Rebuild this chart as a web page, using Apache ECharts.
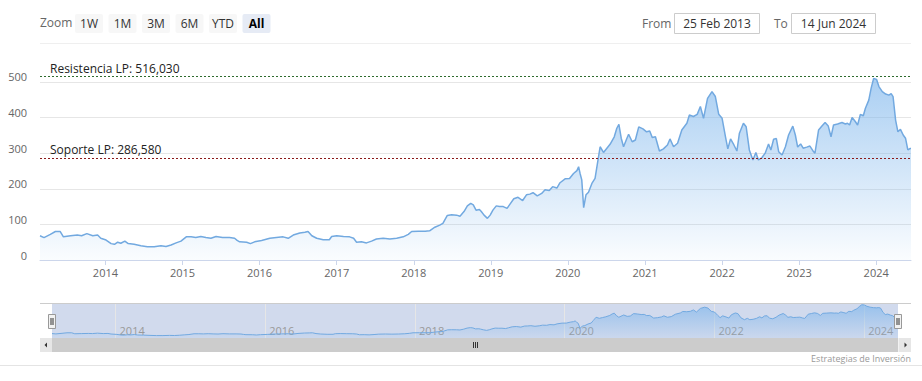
<!DOCTYPE html>
<html><head><meta charset="utf-8">
<script src="https://cdn.jsdelivr.net/npm/echarts@6/dist/echarts.min.js"></script>
<style>html,body{margin:0;padding:0;background:#fff;}#c{width:922px;height:381px;}</style>
</head><body><div id="c"></div>
<script>
const dates = ['2013-02-25','2013-03-16','2013-04-15','2013-05-09','2013-06-01','2013-06-16','2013-07-20','2013-08-21','2013-09-10','2013-10-05','2013-11-02','2013-11-25','2013-12-10',
'2014-01-04','2014-01-28','2014-02-13','2014-02-28','2014-03-15','2014-04-03','2014-04-19','2014-05-17','2014-06-18','2014-07-19','2014-08-20','2014-09-21','2014-10-15','2014-11-08','2014-12-02','2014-12-25',
'2015-01-19','2015-02-11','2015-03-05','2015-03-29','2015-04-22','2015-05-16','2015-06-09','2015-07-10','2015-08-12','2015-09-05','2015-09-17','2015-09-29','2015-11-01','2015-11-19','2015-12-09',
'2016-01-11','2016-02-19','2016-03-21','2016-04-22','2016-05-16','2016-06-09','2016-07-10','2016-08-03','2016-08-18','2016-09-05','2016-09-28','2016-10-29','2016-11-27','2016-12-08',
'2017-01-01','2017-02-02','2017-03-03','2017-03-22','2017-04-05','2017-04-28','2017-05-22','2017-06-15','2017-07-08','2017-08-09','2017-09-10','2017-10-12','2017-11-12','2017-12-06','2017-12-22',
'2018-01-23','2018-02-24','2018-03-17','2018-04-11','2018-05-04','2018-05-19','2018-06-09','2018-06-29','2018-07-23','2018-08-08','2018-08-27','2018-09-12','2018-09-28','2018-10-10','2018-10-23','2018-11-08','2018-11-17','2018-11-30','2018-12-16','2018-12-29',
'2019-01-11','2019-01-27','2019-02-11','2019-03-01','2019-03-19','2019-04-02','2019-04-20','2019-05-10','2019-06-01','2019-06-19','2019-07-05','2019-07-20','2019-08-09','2019-08-30','2019-09-15','2019-10-05','2019-10-21','2019-11-10','2019-11-25','2019-12-19',
'2020-01-09','2020-01-28','2020-02-13','2020-02-21','2020-02-28','2020-03-07','2020-03-16','2020-03-27','2020-04-08','2020-04-24','2020-05-09','2020-05-20','2020-06-02','2020-06-18','2020-07-04','2020-07-19','2020-08-08','2020-08-20','2020-08-30','2020-09-10','2020-09-21','2020-10-07','2020-10-15','2020-11-01','2020-11-16','2020-12-02','2020-12-22',
'2021-01-08','2021-01-23','2021-02-04','2021-02-19','2021-03-10','2021-03-29','2021-04-17','2021-04-29','2021-05-16','2021-06-04','2021-06-24','2021-07-18','2021-07-30','2021-08-18','2021-09-05','2021-09-20','2021-10-05','2021-10-24','2021-11-14','2021-11-30','2021-12-16',
'2022-01-01','2022-01-17','2022-01-28','2022-02-10','2022-02-26','2022-03-12','2022-03-24','2022-04-12','2022-04-25','2022-05-10','2022-05-27','2022-06-10','2022-06-22','2022-07-08','2022-07-24','2022-08-09','2022-08-20','2022-09-02','2022-09-15','2022-09-26','2022-10-12','2022-10-28','2022-11-12','2022-12-02','2022-12-14','2022-12-25',
'2023-01-08','2023-01-20','2023-02-06','2023-02-21','2023-03-07','2023-03-17','2023-04-03','2023-04-19','2023-05-04','2023-05-19','2023-06-01','2023-06-13','2023-07-02','2023-07-23','2023-08-08','2023-08-18','2023-08-28','2023-09-09','2023-09-24','2023-10-05','2023-10-18','2023-11-01','2023-11-11','2023-11-27','2023-12-08','2023-12-20',
'2024-01-03','2024-01-14','2024-01-30','2024-02-15','2024-03-01','2024-03-12','2024-03-21','2024-04-02','2024-04-13','2024-04-25','2024-05-08','2024-05-19','2024-05-30','2024-06-09','2024-06-14'];
const prices = [68,63,72,80,80,65,68,70,68,74,68,70,61,
56,46,44,50,47,53,46,44,40,37,37,40,38,42,48,53,
65,65,63,66,63,61,66,63,63,61,55,51,50,46,51,
55,61,63,65,61,70,76,78,80,68,61,57,57,66,
68,66,65,61,50,51,48,53,59,61,59,61,65,72,80,
81,81,82,92,98,103,125,127,126,123,136,152,159,155,140,142,136,126,117,126,
140,152,150,150,145,157,172,176,167,183,185,189,180,187,197,195,206,202,217,228,
229,243,251,262,243,225,147,183,190,215,229,270,318,302,314,325,346,370,381,342,318,342,353,332,337,374,368,
360,362,344,346,306,312,323,340,318,328,365,384,407,403,409,431,398,454,473,459,409,
398,346,312,340,323,306,356,384,374,309,281,302,281,287,300,326,309,339,341,304,295,318,351,376,351,317,
326,314,317,320,307,300,365,376,386,376,346,379,382,386,382,384,379,400,389,379,409,405,426,449,482,510,
507,487,473,466,463,467,459,393,360,367,351,342,309,313,313];
const yTicks = [0,100,200,300,400,500];
const navigatorYears = [2014,2016,2018,2020,2022,2024];
const resistanceValue = 516.03, resistanceLabel = 'Resistencia LP: 516,030';
const supportValue = 286.58, supportLabel = 'Soporte LP: 286,580';
const zoomButtons = ['1W','1M','3M','6M','YTD','All'];
const fromText = '25 Feb 2013', toText = '14 Jun 2024';
const creditText = 'Estrategias de Inversión';
const startDate = '2013-02-25', endDate = '2024-06-14';

const FONT = '"Open Sans", "Noto Sans", sans-serif';
const YEAR = 365.25 * 86400000;
const seriesData = dates.map((d, i) => [d, prices[i]]);
const chart = echarts.init(document.getElementById('c'), null, {renderer: 'svg'});

const graphics = [];
graphics.push({type:'text', left:40, top:16, style:{text:'Zoom', fill:'#666', font:'12px ' + FONT}});
zoomButtons.forEach((b, i) => {
  const x = 75 + i * 33.5, sel = b === 'All';
  graphics.push({type:'rect', shape:{x:x, y:14, width:28, height:19, r:2}, style:{fill: sel ? '#e6ebf5' : '#f7f7f7'}});
  graphics.push({type:'text', x:x + 14, y:23.5, style:{text:b, fill: sel ? '#000' : '#333', font:(sel ? 'bold ' : '') + '12px ' + FONT, align:'center', verticalAlign:'middle'}});
});
graphics.push({type:'text', x:642, y:23.5, style:{text:'From', fill:'#666', font:'12px ' + FONT, verticalAlign:'middle'}});
graphics.push({type:'rect', shape:{x:674.5, y:13.5, width:85, height:20}, style:{fill:'#fff', stroke:'#cccccc', lineWidth:1}});
graphics.push({type:'text', x:717, y:23.5, style:{text:fromText, fill:'#333', font:'12px ' + FONT, align:'center', verticalAlign:'middle'}});
graphics.push({type:'text', x:774, y:23.5, style:{text:'To', fill:'#666', font:'12px ' + FONT, verticalAlign:'middle'}});
graphics.push({type:'rect', shape:{x:791.5, y:13.5, width:84, height:20}, style:{fill:'#fff', stroke:'#cccccc', lineWidth:1}});
graphics.push({type:'text', x:833.5, y:23.5, style:{text:toText, fill:'#333', font:'12px ' + FONT, align:'center', verticalAlign:'middle'}});
graphics.push({type:'line', shape:{x1:40, y1:43.5, x2:911, y2:43.5}, style:{stroke:'#efefef', lineWidth:1}});
// navigator mask + outline
graphics.push({type:'rect', z:-1, shape:{x:52, y:303, width:846, height:35}, style:{fill:'rgba(102,133,194,0.3)'}});
graphics.push({type:'line', z:10, shape:{x1:40, y1:303.5, x2:911, y2:303.5}, style:{stroke:'#cccccc', lineWidth:1}});
// handles
[48.5, 894.5].forEach(hx => {
  graphics.push({type:'rect', z:11, shape:{x:hx, y:314.5, width:7, height:14}, style:{fill:'#f2f2f2', stroke:'#999', lineWidth:1}});
  graphics.push({type:'line', z:12, shape:{x1:hx + 2.5, y1:318, x2:hx + 2.5, y2:325}, style:{stroke:'#333', lineWidth:1}});
  graphics.push({type:'line', z:12, shape:{x1:hx + 4.5, y1:318, x2:hx + 4.5, y2:325}, style:{stroke:'#333', lineWidth:1}});
});
// scrollbar
graphics.push({type:'rect', shape:{x:40, y:338, width:871, height:14}, style:{fill:'#f2f2f2'}});
graphics.push({type:'rect', shape:{x:52, y:338, width:846, height:14}, style:{fill:'#cccccc'}});
graphics.push({type:'rect', shape:{x:40, y:338, width:12, height:14}, style:{fill:'#e6e6e6'}});
graphics.push({type:'rect', shape:{x:899, y:338, width:12, height:14}, style:{fill:'#e6e6e6'}});
graphics.push({type:'polygon', shape:{points:[[44.5,345],[47,342.5],[47,347.5]]}, style:{fill:'#333'}});
graphics.push({type:'polygon', shape:{points:[[907,345],[904.5,342.5],[904.5,347.5]]}, style:{fill:'#333'}});
[473.5, 475.5, 477.5].forEach(gx => graphics.push({type:'line', shape:{x1:gx, y1:342, x2:gx, y2:348}, style:{stroke:'#333', lineWidth:1}}));
graphics.push({type:'text', x:911, y:358, style:{text:creditText, fill:'#999', font:'9px ' + FONT, align:'right', verticalAlign:'middle'}});
graphics.push({type:'line', shape:{x1:0, y1:365.5, x2:922, y2:365.5}, style:{stroke:'#e4e4e4', lineWidth:1}});

const gridColors = yTicks.map(() => '#e6e6e6').concat(['rgba(0,0,0,0)']);

chart.setOption({
  animation: false,
  textStyle: {fontFamily: FONT},
  grid: [
    {left:40, right:11, top:62, height:198, outerBoundsMode:'none', containLabel:false},
    {left:52, right:24, top:303, height:35, outerBoundsMode:'none', containLabel:false}
  ],
  xAxis: [
    {type:'time', gridIndex:0, min:startDate, max:endDate, minInterval:YEAR, maxInterval:YEAR,
     axisLine:{lineStyle:{color:'#ccd6eb'}},
     axisTick:{show:true, length:5, lineStyle:{color:'#ccd6eb'}},
     axisLabel:{formatter:'{yyyy}', color:'#666', fontSize:11, margin:7, fontFamily:FONT},
     splitLine:{show:false}},
    {type:'time', gridIndex:1, min:startDate, max:endDate, minInterval:YEAR, maxInterval:YEAR,
     axisLine:{show:false}, axisTick:{show:false},
     axisLabel:{inside:true, color:'#999', fontSize:11, margin:2, align:'left', padding:[0,0,0,4], fontFamily:FONT,
       formatter: v => { const y = new Date(v).getFullYear(); return navigatorYears.indexOf(y) >= 0 && new Date(v).getMonth() === 0 && new Date(v).getDate() === 1 ? String(y) : ''; }},
     splitLine:{show:true, lineStyle:{color:['rgba(0,0,0,0)', '#e6e6e6'], width:1}}}
  ],
  yAxis: [
    {type:'value', gridIndex:0, min:0, max:556, interval:100,
     axisLine:{show:false}, axisTick:{show:false},
     axisLabel:{color:'#666', fontSize:11, margin:13, verticalAlign:'bottom', lineHeight:10, fontFamily:FONT,
       formatter: v => yTicks.indexOf(v) >= 0 ? String(v) : ''},
     splitLine:{show:true, lineStyle:{color:gridColors, width:1}}},
    {type:'value', gridIndex:1, min:0, max:537, show:false, splitLine:{show:false}}
  ],
  series: [
    {type:'line', xAxisIndex:0, yAxisIndex:0, data:seriesData, showSymbol:false, symbol:'none',
     lineStyle:{color:'#72a9e0', width:1.5},
     areaStyle:{color:new echarts.graphic.LinearGradient(0, 62, 0, 260, [
       {offset:0, color:'rgba(124,181,236,1)'}, {offset:1, color:'rgba(124,181,236,0.05)'}], true)},
     markLine:{symbol:'none', silent:true, animation:false,
       label:{show:true, position:'insideStartTop', distance:[10,2], color:'#222', fontSize:12, fontFamily:FONT},
       data:[
         {yAxis:resistanceValue, lineStyle:{color:'#2e6b2e', type:[2,2], width:1}, label:{formatter:resistanceLabel}},
         {yAxis:supportValue, lineStyle:{color:'#8b1a1a', type:[2,2], width:1}, label:{formatter:supportLabel}}
       ]}},
    {type:'line', xAxisIndex:1, yAxisIndex:1, data:seriesData, showSymbol:false, symbol:'none', z:3,
     lineStyle:{color:'#72a9e0', width:1},
     areaStyle:{color:new echarts.graphic.LinearGradient(0, 303, 0, 338, [
       {offset:0, color:'rgba(124,181,236,1)'}, {offset:1, color:'rgba(124,181,236,0.1)'}], true)}}
  ],
  graphic: graphics
});
</script></body></html>
